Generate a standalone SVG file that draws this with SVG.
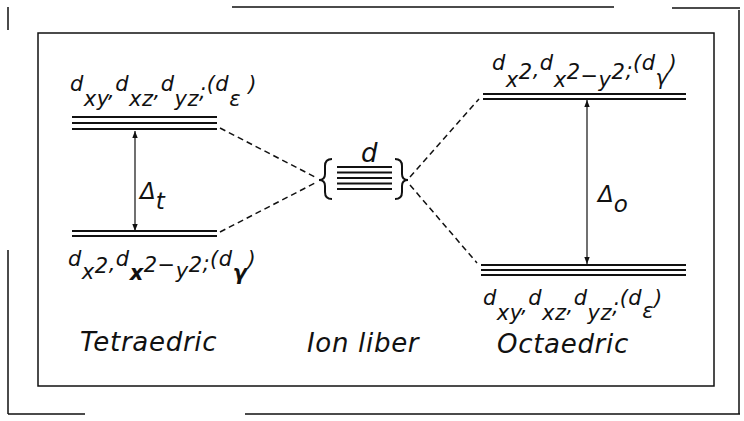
<svg xmlns="http://www.w3.org/2000/svg" width="744" height="421" viewBox="0 0 744 421">
<defs>
<style>
text{font-family:"DejaVu Sans","Liberation Sans",sans-serif;font-style:italic;fill:#111}
.lab{font-size:21px;letter-spacing:0.5px}
.cap{font-size:26px;letter-spacing:0.7px}
.frame{fill:none;stroke:#111;stroke-width:1.5}
.lvl{stroke:#111;stroke-width:2}
.dash{stroke:#111;stroke-width:1.5;stroke-dasharray:6 4;fill:none}
.arr{stroke:#111;stroke-width:1.2;fill:none}
.br{fill:none;stroke:#111;stroke-width:2}
</style>
<marker id="ah" markerWidth="8" markerHeight="8" refX="7" refY="4" orient="auto" markerUnits="userSpaceOnUse">
<path d="M0,1.3 L7,4 L0,6.7 Z" fill="#111"/>
</marker>
</defs>
<rect width="744" height="421" fill="#fff"/>
<g id="frame">
<path class="frame" d="M8,7 V30 M8,250 V414 M8,414 H85 M245,414 H740 M739,10 V414 M232,7 H614 M672,8 H740"/>
<rect class="frame" x="38" y="33" width="676" height="353"/>
</g>
<g id="connectors">
<line class="dash" x1="220" y1="128" x2="317" y2="178"/>
<line class="dash" x1="220" y1="232" x2="317" y2="182"/>
<line class="dash" x1="410" y1="177" x2="479" y2="99"/>
<line class="dash" x1="410" y1="185" x2="477" y2="263"/>
<line class="arr" x1="135" y1="180" x2="135" y2="131" marker-end="url(#ah)"/>
<line class="arr" x1="135" y1="180" x2="135" y2="231" marker-end="url(#ah)"/>
<line class="arr" x1="587" y1="180" x2="587" y2="100" marker-end="url(#ah)"/>
<line class="arr" x1="587" y1="180" x2="587" y2="264" marker-end="url(#ah)"/>
</g>
<g id="tetra-top">
<line class="lvl" x1="72" y1="117" x2="217" y2="117"/>
<line class="lvl" x1="72" y1="123" x2="217" y2="123"/>
<line class="lvl" x1="72" y1="129" x2="217" y2="129"/>
<text class="lab" x="70" y="91">d<tspan dy="15">xy</tspan><tspan dy="-8">,</tspan><tspan dy="-7">d</tspan><tspan dy="15">xz</tspan><tspan dy="-8">,</tspan><tspan dy="-7">d</tspan><tspan dy="15">yz</tspan><tspan dy="-8">;</tspan><tspan dy="-7">(d</tspan><tspan dy="15">ε</tspan><tspan dy="-15"> )</tspan></text>
</g>
<g id="tetra-bottom">
<line class="lvl" x1="72" y1="231" x2="217" y2="231"/>
<line class="lvl" x1="72" y1="236" x2="217" y2="236"/>
<text class="lab" x="68" y="266">d<tspan dy="13">x</tspan><tspan dy="-6">2</tspan><tspan dy="-2">,</tspan><tspan dy="-5">d</tspan><tspan dy="14" font-weight="bold">x</tspan><tspan dy="-8">2−</tspan><tspan dy="6">y</tspan><tspan dy="-6">2</tspan><tspan dy="-2">;</tspan><tspan dy="-4">(d</tspan><tspan dy="14" font-weight="bold">γ</tspan><tspan dy="-14">)</tspan></text>
</g>
<g id="delta-t">
<text x="140" y="199" font-size="23">Δ<tspan dy="10">t</tspan></text>
</g>
<g id="free-ion">
<path class="br" d="M332,159 Q325,159 325,166 L325,174 Q325,180 319,180 Q325,180 325,186 L325,192 Q325,199 332,199"/>
<path class="br" d="M395,159 Q402,159 402,166 L402,174 Q402,180 408,180 Q402,180 402,186 L402,192 Q402,199 395,199"/>
<line class="lvl" x1="337" y1="167" x2="392" y2="167"/>
<line class="lvl" x1="337" y1="172.5" x2="392" y2="172.5"/>
<line class="lvl" x1="337" y1="178" x2="392" y2="178"/>
<line class="lvl" x1="337" y1="183.5" x2="392" y2="183.5"/>
<line class="lvl" x1="337" y1="189" x2="392" y2="189"/>
<text x="361" y="162" font-size="26">d</text>
</g>
<g id="octa-top">
<line class="lvl" x1="483" y1="94" x2="686" y2="94"/>
<line class="lvl" x1="483" y1="99" x2="686" y2="99"/>
<text class="lab" x="492" y="70">d<tspan dy="17">x</tspan><tspan dy="-8">2</tspan><tspan dy="-2">,</tspan><tspan dy="-7">d</tspan><tspan dy="17">x</tspan><tspan dy="-8">2</tspan><tspan dy="4">−</tspan><tspan dy="4">y</tspan><tspan dy="-8">2</tspan><tspan dy="-2">;</tspan><tspan dy="-7">(d</tspan><tspan dy="15">γ</tspan><tspan dy="-15">)</tspan></text>
</g>
<g id="delta-o">
<text x="598" y="202" font-size="23">Δ<tspan dy="10">o</tspan></text>
</g>
<g id="octa-bottom">
<line class="lvl" x1="481" y1="265" x2="686" y2="265"/>
<line class="lvl" x1="481" y1="270" x2="686" y2="270"/>
<line class="lvl" x1="481" y1="275" x2="686" y2="275"/>
<text class="lab" x="483" y="305">d<tspan dy="15">xy</tspan><tspan dy="-7">,</tspan><tspan dy="-8">d</tspan><tspan dy="15">xz</tspan><tspan dy="-7">,</tspan><tspan dy="-8">d</tspan><tspan dy="15">yz</tspan><tspan dy="-7">;</tspan><tspan dy="-8">(d</tspan><tspan dy="13">ε</tspan><tspan dy="-13">)</tspan></text>
</g>
<g id="captions">
<text class="cap" x="80" y="351">Tetraedric</text>
<text class="cap" x="307" y="352">Ion liber</text>
<text class="cap" x="497" y="353">Octaedric</text>
</g>
</svg>
